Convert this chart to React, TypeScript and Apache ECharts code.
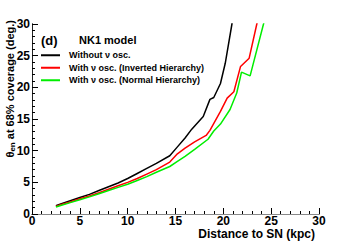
import React, { useEffect, useRef } from "react";
import * as echarts from "echarts";

const xTicks = [0, 5, 10, 15, 20, 25, 30];
const yTicks = [0, 5, 10, 15, 20, 25, 30];

const seriesNames = [
  "Without \u03bd osc.",
  "With \u03bd osc. (Inverted Hierarchy)",
  "With \u03bd osc. (Normal Hierarchy)",
];

const blackX = [2.5, 3, 4, 5, 6, 7, 8, 9, 10, 11, 12, 13, 14.4, 15.2, 16, 16.7, 17.9, 18.6, 19.0, 19.7, 20.2, 20.9, 21.2];
const blackY = [1.3, 1.6, 2.1, 2.6, 3.1, 3.7, 4.3, 4.9, 5.6, 6.4, 7.2, 8.0, 9.2, 10.6, 12.0, 13.4, 15.4, 18.1, 18.4, 20.6, 23.8, 30, 33];

const redX = [2.5, 3, 4, 5, 6, 7, 8, 9, 10, 11, 12, 13, 14.4, 15.2, 16, 17, 18.2, 18.6, 19.7, 20.4, 21.1, 21.8, 22.7, 23.5, 23.8];
const redY = [1.2, 1.45, 1.9, 2.4, 2.85, 3.35, 3.9, 4.45, 5.0, 5.6, 6.3, 7.0, 8.2, 9.5, 10.4, 11.4, 12.4, 13.2, 16.2, 18.3, 19.3, 23.3, 24.6, 30, 32];

const greenX = [2.5, 3, 4, 5, 6, 7, 8, 9, 10, 11, 12, 13, 14.4, 15.2, 16, 17, 18.4, 19.0, 19.7, 20.7, 21.4, 21.9, 22.8, 24.2, 24.5];
const greenY = [1.1, 1.35, 1.8, 2.25, 2.7, 3.2, 3.7, 4.2, 4.7, 5.3, 5.9, 6.6, 7.5, 8.3, 9.1, 10.2, 11.8, 13.1, 14.2, 16.5, 19.1, 22.4, 21.8, 30, 32];

const colors = ["#000000", "#ff0000", "#00ee00"];

const FONT = "Liberation Sans, Arial, Helvetica, sans-serif";

export default function App() {
  const ref = useRef<HTMLDivElement>(null);
  useEffect(() => {
    if (!ref.current) return;
    const chart = echarts.init(ref.current, undefined, { renderer: "svg" });
    const xs = [blackX, redX, greenX];
    const ys = [blackY, redY, greenY];
    const axisCommon = {
      type: "value" as const,
      min: 0,
      max: 30,
      interval: 5,
      splitLine: { show: false },
    };
    chart.setOption({
      animation: false,
      backgroundColor: "#ffffff",
      grid: {
        left: 32,
        top: 24,
        right: 35,
        bottom: 27,
        show: false,
        containLabel: false,
        outerBoundsMode: "none",
      },
      legend: {
        data: seriesNames,
        orient: "vertical",
        left: 41,
        top: 49,
        itemWidth: 19,
        itemHeight: 2,
        itemGap: 0,
        icon: "rect",
        padding: 0,
        textStyle: {
          fontFamily: FONT,
          fontSize: 9,
          fontWeight: "bold",
          color: "#000",
          lineHeight: 12.5,
          padding: [0, 0, 0, 4],
        },
      },
      xAxis: [
        {
          ...axisCommon,
          position: "bottom",
          axisLine: { show: true, lineStyle: { color: "#000", width: 1 } },
          axisTick: { show: true, inside: true, length: 6, lineStyle: { color: "#000" } },
          minorTick: { show: true, splitNumber: 5, length: 3, lineStyle: { color: "#000" } },
          axisLabel: {
            fontFamily: FONT,
            fontSize: 12,
            fontWeight: "bold",
            color: "#000",
            margin: 2,
            lineHeight: 10,
            formatter: (v: number) => (xTicks.includes(v) ? String(v) : ""),
          },
        },
        {
          ...axisCommon,
          position: "top",
          axisLine: { show: true, lineStyle: { color: "#888", width: 1 } },
          axisTick: { show: false },
          axisLabel: { show: false },
        },
      ],
      yAxis: [
        {
          ...axisCommon,
          position: "left",
          axisLine: { show: true, lineStyle: { color: "#000", width: 1 } },
          axisTick: { show: true, inside: true, length: 6, lineStyle: { color: "#000" } },
          minorTick: { show: true, splitNumber: 5, length: 3, lineStyle: { color: "#000" } },
          axisLabel: {
            fontFamily: FONT,
            fontSize: 12,
            fontWeight: "bold",
            color: "#000",
            margin: 2,
            formatter: (v: number) => (yTicks.includes(v) ? String(v) : ""),
          },
        },
        {
          ...axisCommon,
          position: "right",
          axisLine: { show: true, lineStyle: { color: "#222", width: 1 } },
          axisTick: { show: false },
          axisLabel: { show: false },
        },
      ],
      graphic: [
        {
          type: "text",
          x: 10,
          y: 20,
          rotation: Math.PI / 2,
          style: {
            text: "{a|\u03b8}{b|en}{a| at 68% coverage (deg.)}",
            align: "right",
            verticalAlign: "middle",
            fill: "#000",
            rich: {
              a: { fontFamily: FONT, fontSize: 11, fontWeight: "bold", fill: "#000", verticalAlign: "middle" },
              b: { fontFamily: FONT, fontSize: 8, fontWeight: "bold", fill: "#000", padding: [5, 0, 0, 0] },
            },
          },
        },
        {
          type: "text",
          x: 315,
          y: 234,
          style: {
            text: "Distance to SN (kpc)",
            fontFamily: FONT,
            fontSize: 12,
            fontWeight: "bold",
            lineHeight: 10,
            fill: "#000",
            align: "right",
            verticalAlign: "middle",
          },
        },
        {
          type: "text",
          x: 41,
          y: 40,
          style: {
            text: "(d)",
            fontFamily: FONT,
            fontSize: 13,
            fontWeight: "bold",
            fill: "#000",
            verticalAlign: "middle",
          },
        },
        {
          type: "text",
          x: 79,
          y: 40,
          style: {
            text: "NK1 model",
            fontFamily: FONT,
            fontSize: 11,
            fontWeight: "bold",
            fill: "#000",
            verticalAlign: "middle",
          },
        },
      ],
      series: seriesNames.map((name, i) => ({
        name,
        type: "line",
        xAxisIndex: 0,
        yAxisIndex: 0,
        showSymbol: false,
        symbol: "none",
        clip: true,
        data: xs[i].map((x, j) => [x, ys[i][j]]),
        lineStyle: { color: colors[i], width: 1.5 },
        itemStyle: { color: colors[i] },
      })),
    });
    return () => chart.dispose();
  }, []);
  return (
    <div
      ref={ref}
      style={{ position: "fixed", left: 0, top: 0, width: 354, height: 241 }}
    />
  );
}
